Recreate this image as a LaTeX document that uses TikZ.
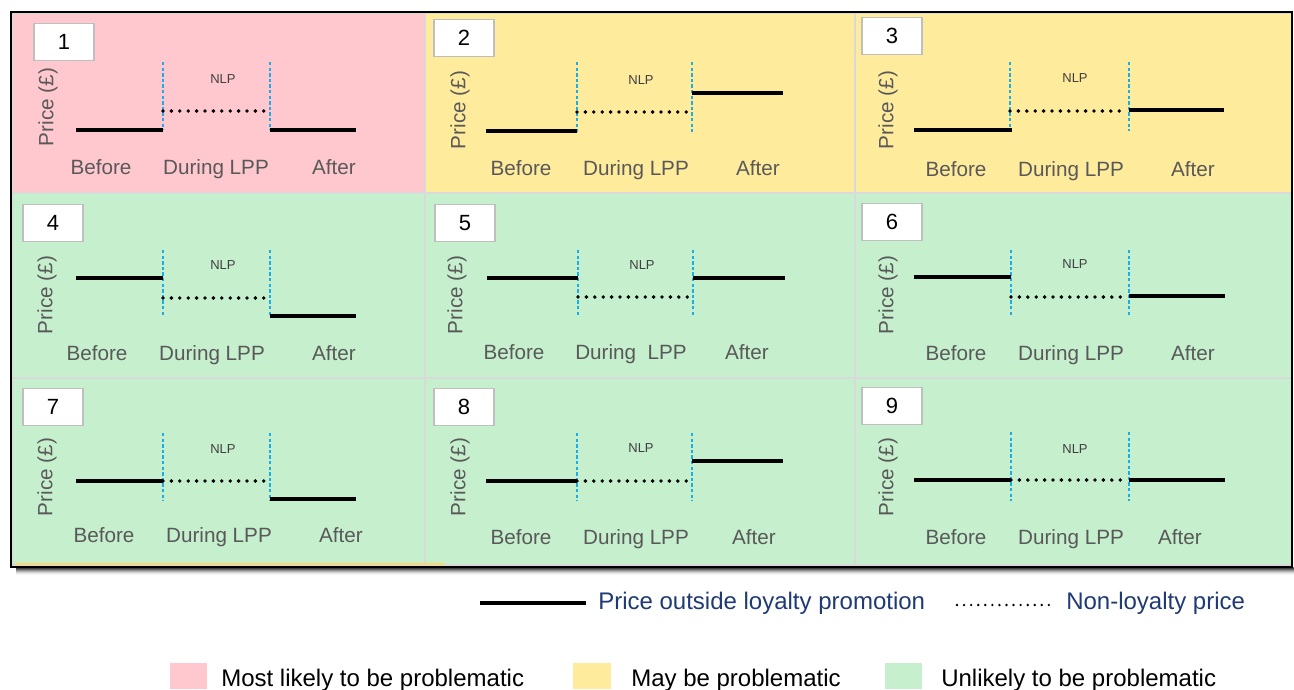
\documentclass[tikz,border=0pt]{standalone}
\usepackage{fontspec}
\setmainfont{Liberation Sans}
\definecolor{pinkc}{HTML}{FFC7CE}
\definecolor{yellc}{HTML}{FFEB9C}
\definecolor{greenc}{HTML}{C6EFCE}
\definecolor{gridc}{HTML}{D9D9D9}
\definecolor{labgray}{HTML}{595959}
\definecolor{nlpgray}{HTML}{404040}
\definecolor{dashblue}{HTML}{1AAEE8}
\definecolor{legblue}{HTML}{1F3A74}
\definecolor{boxgray}{HTML}{BFBFBF}
\definecolor{ghosty}{HTML}{FFD966}
\begin{document}
\begin{tikzpicture}[x=0.75pt,y=-0.75pt,
  cellp/.style={fill=pinkc,draw=gridc,line width=1.5pt},
  celly/.style={fill=yellc,draw=gridc,line width=1.5pt},
  cellg/.style={fill=greenc,draw=gridc,line width=1.5pt},
  numbox/.style={draw=boxgray,fill=white,line width=1.2pt,minimum width=45pt,minimum height=27.75pt,inner sep=0pt,font=\fontsize{16.5}{18}\selectfont,text=black},
  ylab/.style={rotate=90,font=\fontsize{15.5}{18}\selectfont,text=labgray,inner sep=0pt},
  xlab/.style={font=\fontsize{15.5}{18}\selectfont,text=labgray,inner sep=0pt,anchor=base},
  nlp/.style={font=\fontsize{9.75}{11}\selectfont,text=nlpgray,inner sep=0pt},
  vdash/.style={draw=dashblue,line width=1pt,dash pattern=on 2.6pt off 1.6pt},
  solidp/.style={draw=black,line width=2.6pt},
  dotp/.style={draw=black,line width=2.9pt,line cap=round,dash pattern=on 0pt off 6.3pt},
  legtxt/.style={font=\fontsize{18}{21}\selectfont,text=legblue,inner sep=0pt,anchor=base west},
  keytxt/.style={font=\fontsize{18}{21}\selectfont,text=black,inner sep=0pt,anchor=base west}
]
\useasboundingbox (0,0) rectangle (1294,689);
\fill[white] (0,0) rectangle (1294,689);

% shadow under frame
\foreach \i/\o in {1/0.55,2/0.42,3/0.3,4/0.2,5/0.12,6/0.06,7/0.03}
  \draw[black,opacity=\o,line width=0.8pt] (16,{567+\i}) -- (1294,{567+\i});

% cells
\path[cellp] (12,13) rectangle (425,193);
\path[celly] (425,13) rectangle (855,193);
\path[celly] (855,13) rectangle (1292,193);
\path[cellg] (12,193) rectangle (425,378);
\path[cellg] (425,193) rectangle (855,378);
\path[cellg] (855,193) rectangle (1292,378);
\path[cellg] (12,378) rectangle (425,565);
\path[cellg] (425,378) rectangle (855,565);
\path[cellg] (855,378) rectangle (1292,565);
\draw[ghosty,line width=1.2pt] (15,564) -- (445,564);

% outer frame
\draw[black,line width=1.8pt] (11,12) rectangle (1292,567);

% ---------- panel 1 ----------
\node[numbox] (n1) at (64,42) {1};
\node[ylab] (p1) at (48,107) {Price (£)};
\draw[vdash] (163,62) -- (163,130);
\draw[vdash] (270,62) -- (270,130);
\node[nlp] (nlp1) at (223,79) {NLP};
\draw[solidp] (76,130) -- (163,130);
\draw[dotp] (163,111) -- (266,111);
\draw[solidp] (270,130) -- (356,130);
\node[xlab] (b1) at (101,174) {Before};
\node[xlab] (d1) at (216,174) {During LPP};
\node[xlab] (a1) at (334,174) {After};

% ---------- panel 2 ----------
\node[numbox] (n2) at (464,38) {2};
\node[ylab] (p2) at (460,110) {Price (£)};
\draw[vdash] (577,62) -- (577,132);
\draw[vdash] (692,62) -- (692,132);
\node[nlp] (nlp2) at (641,80) {NLP};
\draw[solidp] (486,131) -- (577,131);
\draw[dotp] (577,112) -- (688,112);
\draw[solidp] (692,93) -- (783,93);
\node[xlab] (b2) at (521,175) {Before};
\node[xlab] (d2) at (636,175) {During LPP};
\node[xlab] (a2) at (758,175) {After};

% ---------- panel 3 ----------
\node[numbox] (n3) at (892,36) {3};
\node[ylab] (p3) at (888,110) {Price (£)};
\draw[vdash] (1010,62) -- (1010,131);
\draw[vdash] (1129,62) -- (1129,131);
\node[nlp] (nlp3) at (1075,78) {NLP};
\draw[solidp,line width=3.2pt] (914,130) -- (1012,130);
\draw[dotp] (1010,111) -- (1125,111);
\draw[solidp] (1129,110) -- (1224,110);
\node[xlab] (b3) at (956,176) {Before};
\node[xlab] (d3) at (1071,176) {During LPP};
\node[xlab] (a3) at (1193,176) {After};

% ---------- panel 4 ----------
\node[numbox] (n4) at (53,223) {4};
\node[ylab] (p4) at (47,295) {Price (£)};
\draw[vdash] (163,250) -- (163,317);
\draw[vdash] (270,250) -- (270,317);
\node[nlp] (nlp4) at (223,265) {NLP};
\draw[solidp] (76,278) -- (163,278);
\draw[dotp] (163,298) -- (266,298);
\draw[solidp] (270,316) -- (356,316);
\node[xlab] (b4) at (97,360) {Before};
\node[xlab] (d4) at (212,360) {During LPP};
\node[xlab] (a4) at (334,360) {After};

% ---------- panel 5 ----------
\node[numbox] (n5) at (465,223) {5};
\node[ylab] (p5) at (457,295) {Price (£)};
\draw[vdash] (578,250) -- (578,317);
\draw[vdash] (693,250) -- (693,317);
\node[nlp] (nlp5) at (642,265) {NLP};
\draw[solidp] (487,278) -- (578,278);
\draw[dotp] (578,297) -- (689,297);
\draw[solidp] (693,278) -- (785,278);
\node[xlab] (b5) at (514,359) {Before};
\node[xlab] (d5) at (631,359) {During\ \ LPP};
\node[xlab] (a5) at (747,359) {After};

% ---------- panel 6 ----------
\node[numbox] (n6) at (892,222) {6};
\node[ylab] (p6) at (888,295) {Price (£)};
\draw[vdash] (1011,250) -- (1011,317);
\draw[vdash] (1129,250) -- (1129,317);
\node[nlp] (nlp6) at (1075,264) {NLP};
\draw[solidp] (914,277) -- (1011,277);
\draw[dotp] (1011,297) -- (1125,297);
\draw[solidp] (1129,296) -- (1225,296);
\node[xlab] (b6) at (956,360) {Before};
\node[xlab] (d6) at (1071,360) {During LPP};
\node[xlab] (a6) at (1193,360) {After};

% ---------- panel 7 ----------
\node[numbox] (n7) at (53,407) {7};
\node[ylab] (p7) at (47,477) {Price (£)};
\draw[vdash] (163,433) -- (163,501);
\draw[vdash] (270,433) -- (270,501);
\node[nlp] (nlp7) at (223,449) {NLP};
\draw[solidp] (76,481) -- (163,481);
\draw[dotp] (163,481) -- (266,481);
\draw[solidp] (270,499) -- (356,499);
\node[xlab] (b7) at (104,542) {Before};
\node[xlab] (d7) at (219,542) {During LPP};
\node[xlab] (a7) at (341,542) {After};

% ---------- panel 8 ----------
\node[numbox] (n8) at (464,407) {8};
\node[ylab] (p8) at (460,477) {Price (£)};
\draw[vdash] (577,433) -- (577,501);
\draw[vdash] (692,433) -- (692,501);
\node[nlp] (nlp8) at (641,448) {NLP};
\draw[solidp] (486,481) -- (577,481);
\draw[dotp] (577,481) -- (688,481);
\draw[solidp] (692,461) -- (783,461);
\node[xlab] (b8) at (521,544) {Before};
\node[xlab] (d8) at (636,544) {During LPP};
\node[xlab] (a8) at (754,544) {After};

% ---------- panel 9 ----------
\node[numbox] (n9) at (892,406) {9};
\node[ylab] (p9) at (888,477) {Price (£)};
\draw[vdash] (1011,432) -- (1011,501);
\draw[vdash] (1129,432) -- (1129,501);
\node[nlp] (nlp9) at (1075,449) {NLP};
\draw[solidp] (914,480) -- (1011,480);
\draw[dotp] (1011,480) -- (1125,480);
\draw[solidp] (1129,480) -- (1225,480);
\node[xlab] (b9) at (956,544) {Before};
\node[xlab] (d9) at (1071,544) {During LPP};
\node[xlab] (a9) at (1180,544) {After};

% ---------- line legend ----------
\coordinate (ls1) at (480,603);
\coordinate (ls2) at (586,603);
\draw[black,line width=2.8pt] (ls1) -- (ls2);
\node[legtxt] (lt1) at (598,609) {Price outside loyalty promotion};
\coordinate (ld1) at (957,605);
\coordinate (ld2) at (1054,605);
\draw[black,line width=2pt,line cap=round,dash pattern=on 0pt off 5.3pt] (ld1) -- (ld2);
\node[legtxt] (lt2) at (1066,609) {Non-loyalty price};

% ---------- colour legend ----------
\fill[pinkc] (170,663) rectangle (207,689);
\node[keytxt] (k1) at (221,686) {Most likely to be problematic};
\fill[yellc] (573,663) rectangle (611,689);
\node[keytxt] (k2) at (631,686) {May be problematic};
\fill[greenc] (885,663) rectangle (922,689);
\node[keytxt] (k3) at (941,686) {Unlikely to be problematic};
\end{tikzpicture}
\end{document}
